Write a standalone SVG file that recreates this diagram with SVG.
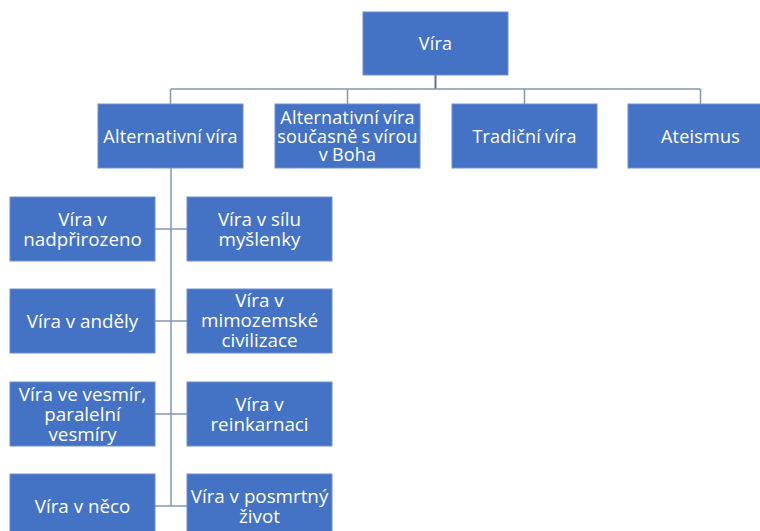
<svg xmlns="http://www.w3.org/2000/svg" width="760" height="531" viewBox="0 0 760 531">
<style>
.box{fill:#4472C4;stroke:#6F8FCF;stroke-width:1}
.t{fill:#FFFFFF;font-family:"Open Sans","Liberation Sans",sans-serif;font-size:18px;letter-spacing:0.2px;word-spacing:-1px;text-anchor:middle}
.s{fill:#FFFFFF;font-family:"Open Sans","Liberation Sans",sans-serif;font-size:18.8px;text-anchor:middle}
.c{stroke:#8497B0;stroke-width:1.5;fill:none}
.c2{stroke:#5F7290;stroke-width:2;fill:none}
</style>
<rect width="760" height="531" fill="#FFFFFF"/>
<g id="connectors">
<path class="c2" d="M435.5 75 V89"/>
<path class="c" d="M170.5 89 H700.5 M170.5 89 V104 M347.5 89 V104 M524.5 89 V104 M700.5 89 V104"/>
<path class="c" d="M171 168 V506"/>
<path class="c" d="M155 229 H187 M155 321 H187 M155 414 H187 M155 506 H187"/>
</g>
<g id="n-vira"><rect class="box" x="363" y="12" width="145" height="63"/><text class="t" x="435.5" y="50">Víra</text></g>
<g id="n-alt"><rect class="box" x="98" y="104" width="145" height="64"/><text class="t" x="170.5" y="142.5">Alternativní víra</text></g>
<g id="n-alt-boh"><rect class="box" x="275" y="104" width="145" height="64"/><text class="t" x="347.5" y="124">Alternativní víra</text><text class="t" x="347.5" y="142.5">současně s vírou</text><text class="t" x="347.5" y="161">v Boha</text></g>
<g id="n-trad"><rect class="box" x="452" y="104" width="145" height="64"/><text class="t" x="524.5" y="142.5">Tradiční víra</text></g>
<g id="n-ate"><rect class="box" x="628" y="104" width="145" height="64"/><text class="t" x="700.5" y="142.5">Ateismus</text></g>
<g id="n-nadp"><rect class="box" x="10" y="197" width="145" height="64"/><text class="s" x="82.5" y="225.5">Víra v</text><text class="s" x="82.5" y="245.5">nadpřirozeno</text></g>
<g id="n-silu"><rect class="box" x="187" y="197" width="145" height="64"/><text class="s" x="259.5" y="225.5">Víra v sílu</text><text class="s" x="259.5" y="245.5">myšlenky</text></g>
<g id="n-andely"><rect class="box" x="10" y="289" width="145" height="64"/><text class="s" x="82.5" y="327.5">Víra v anděly</text></g>
<g id="n-mimo"><rect class="box" x="187" y="289" width="145" height="64"/><text class="s" x="259.5" y="306.5">Víra v</text><text class="s" x="259.5" y="326.5">mimozemské</text><text class="s" x="259.5" y="346.5">civilizace</text></g>
<g id="n-vesmir"><rect class="box" x="10" y="382" width="145" height="64"/><text class="s" x="82.5" y="400.5">Víra ve vesmír,</text><text class="s" x="82.5" y="420.5">paralelní</text><text class="s" x="82.5" y="440.5">vesmíry</text></g>
<g id="n-reink"><rect class="box" x="187" y="382" width="145" height="64"/><text class="s" x="259.5" y="410.5">Víra v</text><text class="s" x="259.5" y="430.5">reinkarnaci</text></g>
<g id="n-neco"><rect class="box" x="10" y="474" width="145" height="64"/><text class="s" x="82.5" y="512.5">Víra v něco</text></g>
<g id="n-posm"><rect class="box" x="187" y="474" width="145" height="64"/><text class="s" x="259.5" y="502.5">Víra v posmrtný</text><text class="s" x="259.5" y="522.5">život</text></g>
</svg>
